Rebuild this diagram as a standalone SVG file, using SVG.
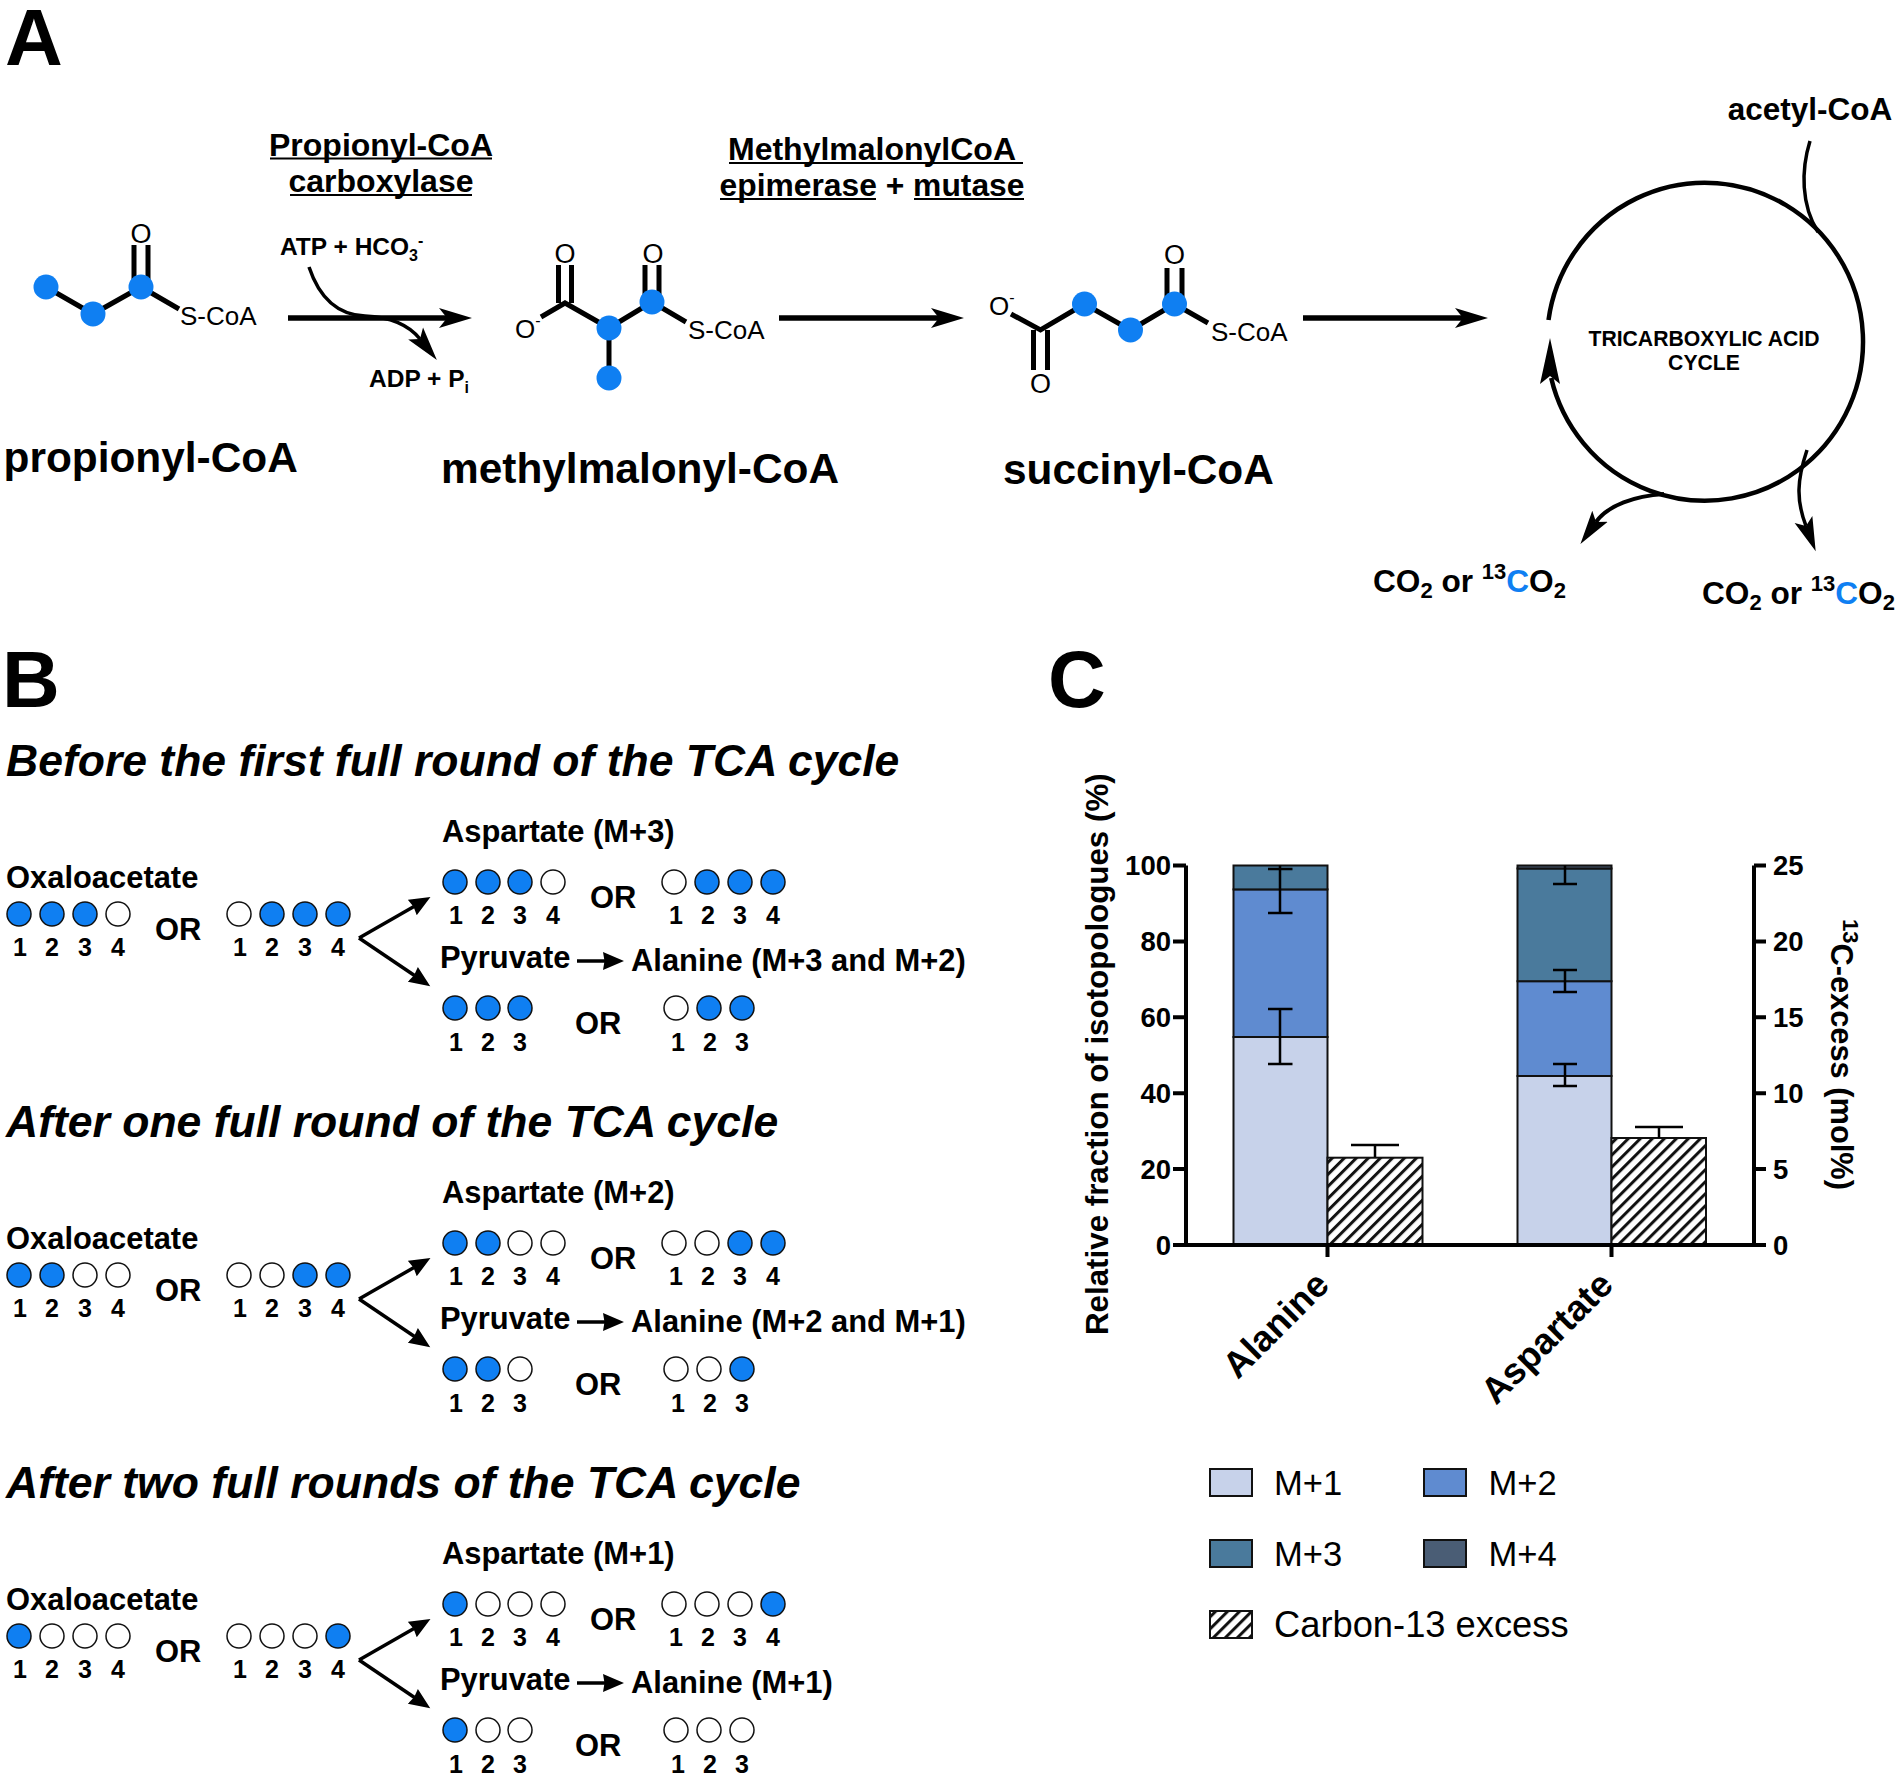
<svg xmlns="http://www.w3.org/2000/svg" width="1902" height="1779" viewBox="0 0 1902 1779">
<style>
text{font-family:"Liberation Sans",Arial,sans-serif;fill:#000}
.p{font-size:80px;font-weight:700}
.n{font-size:42.4px;font-weight:700}
.e{font-size:32px;font-weight:700;text-anchor:middle}
.m{font-size:24.5px;font-weight:700}
.a{font-size:27px;text-anchor:middle}
.s{font-size:26px}
.h{font-size:44.5px;font-weight:700;font-style:italic}
.t{font-size:30.9px;font-weight:700}
.d{font-size:25px;font-weight:700;text-anchor:middle}
.co{font-size:31.6px;font-weight:700}
.yl{font-size:31.3px;font-weight:700}
.xl{font-size:36.5px;font-weight:700;text-anchor:end}
.tk{font-size:27.5px;font-weight:700}
.lg{font-size:34.6px}
.bond{fill:none;stroke:#000;stroke-width:5}
.u{fill:none;stroke:#000;stroke-width:2}
.b{fill:#0f7ff2}
.q{fill:#0f7ff2;stroke:#111;stroke-width:1.5}
.w{fill:#fff;stroke:#111;stroke-width:1.5}
.fl{fill:none;stroke:#000}
.ax{fill:none;stroke:#000;stroke-width:4}
.bar{stroke:#111;stroke-width:2}
.m1{fill:#c7d2ea}.m2{fill:#5f8bd0}.m3{fill:#4a7a9c}.m4{fill:#4a5d75}.hx{fill:url(#hatch)}
.eb{fill:none;stroke:#000;stroke-width:2.5}
</style>
<defs>
<marker id="big" markerUnits="userSpaceOnUse" markerWidth="40" markerHeight="24" viewBox="0 -12 40 24" refX="8" refY="0" orient="auto"><path d="M0,-10L33,0L0,10L8,0Z"/></marker>
<marker id="long" markerUnits="userSpaceOnUse" markerWidth="40" markerHeight="22" viewBox="0 -11 40 22" refX="7" refY="0" orient="auto"><path d="M0,-9.5L34,0L0,9.5L7,0Z"/></marker>
<marker id="med" markerUnits="userSpaceOnUse" markerWidth="26" markerHeight="20" viewBox="0 -10 26 20" refX="2" refY="0" orient="auto"><path d="M0,-9L21,0L0,9L1.5,0Z"/></marker>
<pattern id="hatch" patternUnits="userSpaceOnUse" width="8.5" height="8.5" patternTransform="rotate(-45)"><rect width="8.5" height="8.5" fill="#fff"/><rect width="8.5" height="3" fill="#111"/></pattern>
<g id="split"><path class="fl" stroke-width="3.5" d="M359,938L414,906.5" marker-end="url(#med)"/><path class="fl" stroke-width="3.5" d="M359,938L414.5,975.5" marker-end="url(#med)"/><path class="fl" stroke-width="3.5" d="M577,961H605" marker-end="url(#med)"/></g>
</defs>
<rect width="1902" height="1779" fill="#fff"/>

<g id="connectors">
<path class="fl" stroke-width="5.5" d="M288,318H447" marker-end="url(#big)"/>
<path class="fl" stroke-width="3.5" d="M309,267C320,300 340,315 365,316C390,317 408,324 420,339" marker-end="url(#long)"/>
<path class="fl" stroke-width="5.5" d="M779,318H939" marker-end="url(#big)"/>
<path class="fl" stroke-width="5.5" d="M1303,318H1463" marker-end="url(#big)"/>
<path class="fl" stroke-width="4.5" d="M1548.5,320A158,159 0 1 1 1551.2,378"/>
<path d="M1550,338L1560,384L1550,376L1540,384Z"/>
<path class="fl" stroke-width="3.5" d="M1810,141C1801,170 1801,205 1818,232"/>
<path class="fl" stroke-width="3.5" d="M1807,450C1797,480 1796,500 1806,526" marker-end="url(#long)"/>
<path class="fl" stroke-width="4" d="M1664,494C1635,496 1608,505 1596,522" marker-end="url(#long)"/>
<use href="#split"/>
<use href="#split" y="361"/>
<use href="#split" y="722"/>
</g>

<g id="label-A"><text class="p" x="5" y="65">A</text></g>
<g id="label-B"><text class="p" x="2" y="707">B</text></g>
<g id="label-C"><text class="p" x="1048" y="707">C</text></g>

<g id="enzyme-1">
<text class="e" x="381" y="156">Propionyl-CoA</text><path class="u" d="M270,158.5H492"/>
<text class="e" x="381" y="192">carboxylase</text><path class="u" d="M290,195H472"/>
</g>
<g id="enzyme-2">
<text class="e" x="872" y="160">MethylmalonylCoA</text><path class="u" d="M729,163H1023"/>
<text class="e" x="872" y="196" style="font-size:31.8px">epimerase + mutase</text><path class="u" d="M720,199H876M914,199H1024"/>
</g>
<g id="cofactors">
<text class="m" x="280" y="255">ATP + HCO<tspan font-size="16" dy="6">3</tspan><tspan font-size="16" dy="-15">-</tspan></text>
<text class="m" x="369" y="387">ADP + P<tspan font-size="16" dy="6">i</tspan></text>
</g>

<g id="propionyl-CoA">
<path class="bond" d="M46,287L93,314L141,287L179,309"/>
<path class="bond" stroke-width="4" d="M134,245V287M148,245V287"/>
<circle class="b" cx="46" cy="287" r="12.5"/><circle class="b" cx="93" cy="314" r="12.5"/><circle class="b" cx="141" cy="287" r="12.5"/>
<text class="a" x="141" y="243">O</text><text class="s" x="180" y="325">S-CoA</text>
<text class="n" x="3.5" y="472">propionyl-CoA</text>
</g>
<g id="methylmalonyl-CoA">
<path class="bond" d="M541,317L565,303L609,328L652,302L686,322M609,328V378"/>
<path class="bond" d="M558.5,265V303M571.5,265V303M645,265V302M659,265V302"/>
<circle class="b" cx="609" cy="328" r="12.5"/><circle class="b" cx="652" cy="302" r="12.5"/><circle class="b" cx="609" cy="378" r="12.5"/>
<text class="a" x="565" y="263">O</text><text class="a" x="653" y="263">O</text>
<text class="s" x="515" y="338">O<tspan font-size="16" dy="-12">-</tspan></text>
<text class="s" x="688" y="339">S-CoA</text>
<text class="n" x="441" y="483">methylmalonyl-CoA</text>
</g>
<g id="succinyl-CoA">
<path class="bond" d="M1011,314L1040.5,330L1084.5,304L1130.5,330L1174.5,304L1208,323"/>
<path class="bond" d="M1167,268V304M1182,268V304M1033.5,330V370M1047.5,330V370"/>
<circle class="b" cx="1084.5" cy="304" r="12.5"/><circle class="b" cx="1130.5" cy="330" r="12.5"/><circle class="b" cx="1174.5" cy="304" r="12.5"/>
<text class="a" x="1174.5" y="264">O</text><text class="a" x="1040.5" y="393">O</text>
<text class="s" x="989" y="315">O<tspan font-size="16" dy="-12">-</tspan></text>
<text class="s" x="1211" y="341">S-CoA</text>
<text class="n" x="1003" y="483.5">succinyl-CoA</text>
</g>
<g id="tca">
<text x="1704" y="346" font-size="21.2" font-weight="700" text-anchor="middle">TRICARBOXYLIC ACID</text>
<text x="1704" y="370" font-size="21.2" font-weight="700" text-anchor="middle">CYCLE</text>
<text class="e" x="1810" y="120" style="font-size:31.5px">acetyl-CoA</text>
<text class="co" x="1373" y="592">CO<tspan font-size="22" dy="6">2</tspan><tspan dy="-6"> or </tspan><tspan font-size="22" dy="-13">13</tspan><tspan fill="#0f7ff2" dy="13">C</tspan>O<tspan font-size="22" dy="6">2</tspan></text>
<text class="co" x="1702" y="604">CO<tspan font-size="22" dy="6">2</tspan><tspan dy="-6"> or </tspan><tspan font-size="22" dy="-13">13</tspan><tspan fill="#0f7ff2" dy="13">C</tspan>O<tspan font-size="22" dy="6">2</tspan></text>
</g>

<g id="block-1">
<text class="h" x="6" y="776">Before the first full round of the TCA cycle</text>
<text class="t" x="442" y="842">Aspartate (M+3)</text>
<text class="t" x="6" y="888">Oxaloacetate</text>
<circle class="q" cx="19" cy="914" r="12"/><circle class="q" cx="52" cy="914" r="12"/><circle class="q" cx="85" cy="914" r="12"/><circle class="w" cx="118" cy="914" r="12"/>
<text class="d" x="20" y="956">1</text><text class="d" x="52" y="956">2</text><text class="d" x="85" y="956">3</text><text class="d" x="118" y="956">4</text>
<text class="t" x="155" y="940">OR</text>
<circle class="w" cx="239" cy="914" r="12"/><circle class="q" cx="272" cy="914" r="12"/><circle class="q" cx="305" cy="914" r="12"/><circle class="q" cx="338" cy="914" r="12"/>
<text class="d" x="240" y="956">1</text><text class="d" x="272" y="956">2</text><text class="d" x="305" y="956">3</text><text class="d" x="338" y="956">4</text>
<circle class="q" cx="455" cy="882" r="12"/><circle class="q" cx="488" cy="882" r="12"/><circle class="q" cx="520" cy="882" r="12"/><circle class="w" cx="553" cy="882" r="12"/>
<text class="d" x="456" y="924">1</text><text class="d" x="488" y="924">2</text><text class="d" x="520" y="924">3</text><text class="d" x="553" y="924">4</text>
<text class="t" x="590" y="908">OR</text>
<circle class="w" cx="674" cy="882" r="12"/><circle class="q" cx="707" cy="882" r="12"/><circle class="q" cx="740" cy="882" r="12"/><circle class="q" cx="773" cy="882" r="12"/>
<text class="d" x="676" y="924">1</text><text class="d" x="708" y="924">2</text><text class="d" x="740" y="924">3</text><text class="d" x="773" y="924">4</text>
<text class="t" x="440" y="968">Pyruvate</text><text class="t" x="631" y="971">Alanine (M+3 and M+2)</text>
<circle class="q" cx="455" cy="1008" r="12"/><circle class="q" cx="488" cy="1008" r="12"/><circle class="q" cx="520" cy="1008" r="12"/>
<text class="d" x="456" y="1051">1</text><text class="d" x="488" y="1051">2</text><text class="d" x="520" y="1051">3</text>
<text class="t" x="575" y="1034">OR</text>
<circle class="w" cx="676" cy="1008" r="12"/><circle class="q" cx="709" cy="1008" r="12"/><circle class="q" cx="742" cy="1008" r="12"/>
<text class="d" x="678" y="1051">1</text><text class="d" x="710" y="1051">2</text><text class="d" x="742" y="1051">3</text>
</g>

<g id="block-2" transform="translate(0,361)">
<text class="h" x="6" y="776">After one full round of the TCA cycle</text>
<text class="t" x="442" y="842">Aspartate (M+2)</text>
<text class="t" x="6" y="888">Oxaloacetate</text>
<circle class="q" cx="19" cy="914" r="12"/><circle class="q" cx="52" cy="914" r="12"/><circle class="w" cx="85" cy="914" r="12"/><circle class="w" cx="118" cy="914" r="12"/>
<text class="d" x="20" y="956">1</text><text class="d" x="52" y="956">2</text><text class="d" x="85" y="956">3</text><text class="d" x="118" y="956">4</text>
<text class="t" x="155" y="940">OR</text>
<circle class="w" cx="239" cy="914" r="12"/><circle class="w" cx="272" cy="914" r="12"/><circle class="q" cx="305" cy="914" r="12"/><circle class="q" cx="338" cy="914" r="12"/>
<text class="d" x="240" y="956">1</text><text class="d" x="272" y="956">2</text><text class="d" x="305" y="956">3</text><text class="d" x="338" y="956">4</text>
<circle class="q" cx="455" cy="882" r="12"/><circle class="q" cx="488" cy="882" r="12"/><circle class="w" cx="520" cy="882" r="12"/><circle class="w" cx="553" cy="882" r="12"/>
<text class="d" x="456" y="924">1</text><text class="d" x="488" y="924">2</text><text class="d" x="520" y="924">3</text><text class="d" x="553" y="924">4</text>
<text class="t" x="590" y="908">OR</text>
<circle class="w" cx="674" cy="882" r="12"/><circle class="w" cx="707" cy="882" r="12"/><circle class="q" cx="740" cy="882" r="12"/><circle class="q" cx="773" cy="882" r="12"/>
<text class="d" x="676" y="924">1</text><text class="d" x="708" y="924">2</text><text class="d" x="740" y="924">3</text><text class="d" x="773" y="924">4</text>
<text class="t" x="440" y="968">Pyruvate</text><text class="t" x="631" y="971">Alanine (M+2 and M+1)</text>
<circle class="q" cx="455" cy="1008" r="12"/><circle class="q" cx="488" cy="1008" r="12"/><circle class="w" cx="520" cy="1008" r="12"/>
<text class="d" x="456" y="1051">1</text><text class="d" x="488" y="1051">2</text><text class="d" x="520" y="1051">3</text>
<text class="t" x="575" y="1034">OR</text>
<circle class="w" cx="676" cy="1008" r="12"/><circle class="w" cx="709" cy="1008" r="12"/><circle class="q" cx="742" cy="1008" r="12"/>
<text class="d" x="678" y="1051">1</text><text class="d" x="710" y="1051">2</text><text class="d" x="742" y="1051">3</text>
</g>

<g id="block-3" transform="translate(0,722)">
<text class="h" x="6" y="776">After two full rounds of the TCA cycle</text>
<text class="t" x="442" y="842">Aspartate (M+1)</text>
<text class="t" x="6" y="888">Oxaloacetate</text>
<circle class="q" cx="19" cy="914" r="12"/><circle class="w" cx="52" cy="914" r="12"/><circle class="w" cx="85" cy="914" r="12"/><circle class="w" cx="118" cy="914" r="12"/>
<text class="d" x="20" y="956">1</text><text class="d" x="52" y="956">2</text><text class="d" x="85" y="956">3</text><text class="d" x="118" y="956">4</text>
<text class="t" x="155" y="940">OR</text>
<circle class="w" cx="239" cy="914" r="12"/><circle class="w" cx="272" cy="914" r="12"/><circle class="w" cx="305" cy="914" r="12"/><circle class="q" cx="338" cy="914" r="12"/>
<text class="d" x="240" y="956">1</text><text class="d" x="272" y="956">2</text><text class="d" x="305" y="956">3</text><text class="d" x="338" y="956">4</text>
<circle class="q" cx="455" cy="882" r="12"/><circle class="w" cx="488" cy="882" r="12"/><circle class="w" cx="520" cy="882" r="12"/><circle class="w" cx="553" cy="882" r="12"/>
<text class="d" x="456" y="924">1</text><text class="d" x="488" y="924">2</text><text class="d" x="520" y="924">3</text><text class="d" x="553" y="924">4</text>
<text class="t" x="590" y="908">OR</text>
<circle class="w" cx="674" cy="882" r="12"/><circle class="w" cx="707" cy="882" r="12"/><circle class="w" cx="740" cy="882" r="12"/><circle class="q" cx="773" cy="882" r="12"/>
<text class="d" x="676" y="924">1</text><text class="d" x="708" y="924">2</text><text class="d" x="740" y="924">3</text><text class="d" x="773" y="924">4</text>
<text class="t" x="440" y="968">Pyruvate</text><text class="t" x="631" y="971">Alanine (M+1)</text>
<circle class="q" cx="455" cy="1008" r="12"/><circle class="w" cx="488" cy="1008" r="12"/><circle class="w" cx="520" cy="1008" r="12"/>
<text class="d" x="456" y="1051">1</text><text class="d" x="488" y="1051">2</text><text class="d" x="520" y="1051">3</text>
<text class="t" x="575" y="1034">OR</text>
<circle class="w" cx="676" cy="1008" r="12"/><circle class="w" cx="709" cy="1008" r="12"/><circle class="w" cx="742" cy="1008" r="12"/>
<text class="d" x="678" y="1051">1</text><text class="d" x="710" y="1051">2</text><text class="d" x="742" y="1051">3</text>
</g>

<g id="chart">
<g id="bars">
<rect class="bar m1" x="1233.5" y="1037" width="94" height="208"/>
<rect class="bar m2" x="1233.5" y="889.4" width="94" height="147.6"/>
<rect class="bar m3" x="1233.5" y="865.5" width="94" height="23.9"/>
<rect class="bar hx" x="1327.5" y="1157.7" width="95" height="87.3"/>
<rect class="bar m1" x="1517.5" y="1076" width="94" height="169"/>
<rect class="bar m2" x="1517.5" y="981.2" width="94" height="94.8"/>
<rect class="bar m3" x="1517.5" y="868.5" width="94" height="112.7"/>
<rect class="bar m4" x="1517.5" y="865.5" width="94" height="3"/>
<rect class="bar hx" x="1611.5" y="1138" width="94.5" height="107"/>
</g>
<g id="errors">
<path class="eb" d="M1280,1009V1064M1268,1009H1292.5M1268,1064H1292.5"/>
<path class="eb" d="M1280,865.5V913M1268,869H1292.5M1268,913H1292.5"/>
<path class="eb" d="M1375,1157V1145M1351,1145H1399"/>
<path class="eb" d="M1565,1064V1086M1553,1064H1577M1553,1086H1577"/>
<path class="eb" d="M1565,970V992M1553,970H1577M1553,992H1577"/>
<path class="eb" d="M1565,865.5V884M1553,884H1577"/>
<path class="eb" d="M1659,1138V1127M1635,1127H1683"/>
</g>
<g id="axes">
<path class="ax" d="M1186,865.5V1245H1754V865.5"/>
<path class="ax" d="M1173,865.5H1186M1173,941.4H1186M1173,1017.3H1186M1173,1093.2H1186M1173,1169.1H1186M1173,1245H1186"/>
<path class="ax" d="M1754,865.5H1766M1754,941.4H1766M1754,1017.3H1766M1754,1093.2H1766M1754,1169.1H1766M1754,1245H1766"/>
<path class="ax" d="M1327.5,1245V1257M1611.5,1245V1257"/>
</g>
<g id="tick-labels">
<text class="tk" text-anchor="end" x="1171" y="875">100</text><text class="tk" text-anchor="end" x="1171" y="951">80</text><text class="tk" text-anchor="end" x="1171" y="1027">60</text><text class="tk" text-anchor="end" x="1171" y="1103">40</text><text class="tk" text-anchor="end" x="1171" y="1179">20</text><text class="tk" text-anchor="end" x="1171" y="1255">0</text>
<text class="tk" x="1773" y="875">25</text><text class="tk" x="1773" y="951">20</text><text class="tk" x="1773" y="1027">15</text><text class="tk" x="1773" y="1103">10</text><text class="tk" x="1773" y="1179">5</text><text class="tk" x="1773" y="1255">0</text>
</g>
<text class="yl" transform="translate(1108,1335) rotate(-90)">Relative fraction of isotopologues (%)</text>
<text class="yl" transform="translate(1831,919) rotate(90)"><tspan font-size="22" dy="-12">13</tspan><tspan dy="12" font-size="30.8">C-excess (mol%)</tspan></text>
<text class="xl" transform="translate(1331,1287) rotate(-45)">Alanine</text>
<text class="xl" transform="translate(1615,1287) rotate(-45)">Aspartate</text>
</g>

<g id="legend">
<rect class="bar m1" x="1210" y="1469" width="42" height="27"/><text class="lg" x="1274" y="1495">M+1</text>
<rect class="bar m2" x="1424" y="1469" width="42" height="27"/><text class="lg" x="1488.5" y="1495">M+2</text>
<rect class="bar m3" x="1210" y="1540" width="42" height="27"/><text class="lg" x="1274" y="1566">M+3</text>
<rect class="bar m4" x="1424" y="1540" width="42" height="27"/><text class="lg" x="1488.5" y="1566">M+4</text>
<rect class="bar hx" x="1210" y="1611" width="42" height="27"/><text x="1274" y="1637" font-size="36.3">Carbon-13 excess</text>
</g>
</svg>
